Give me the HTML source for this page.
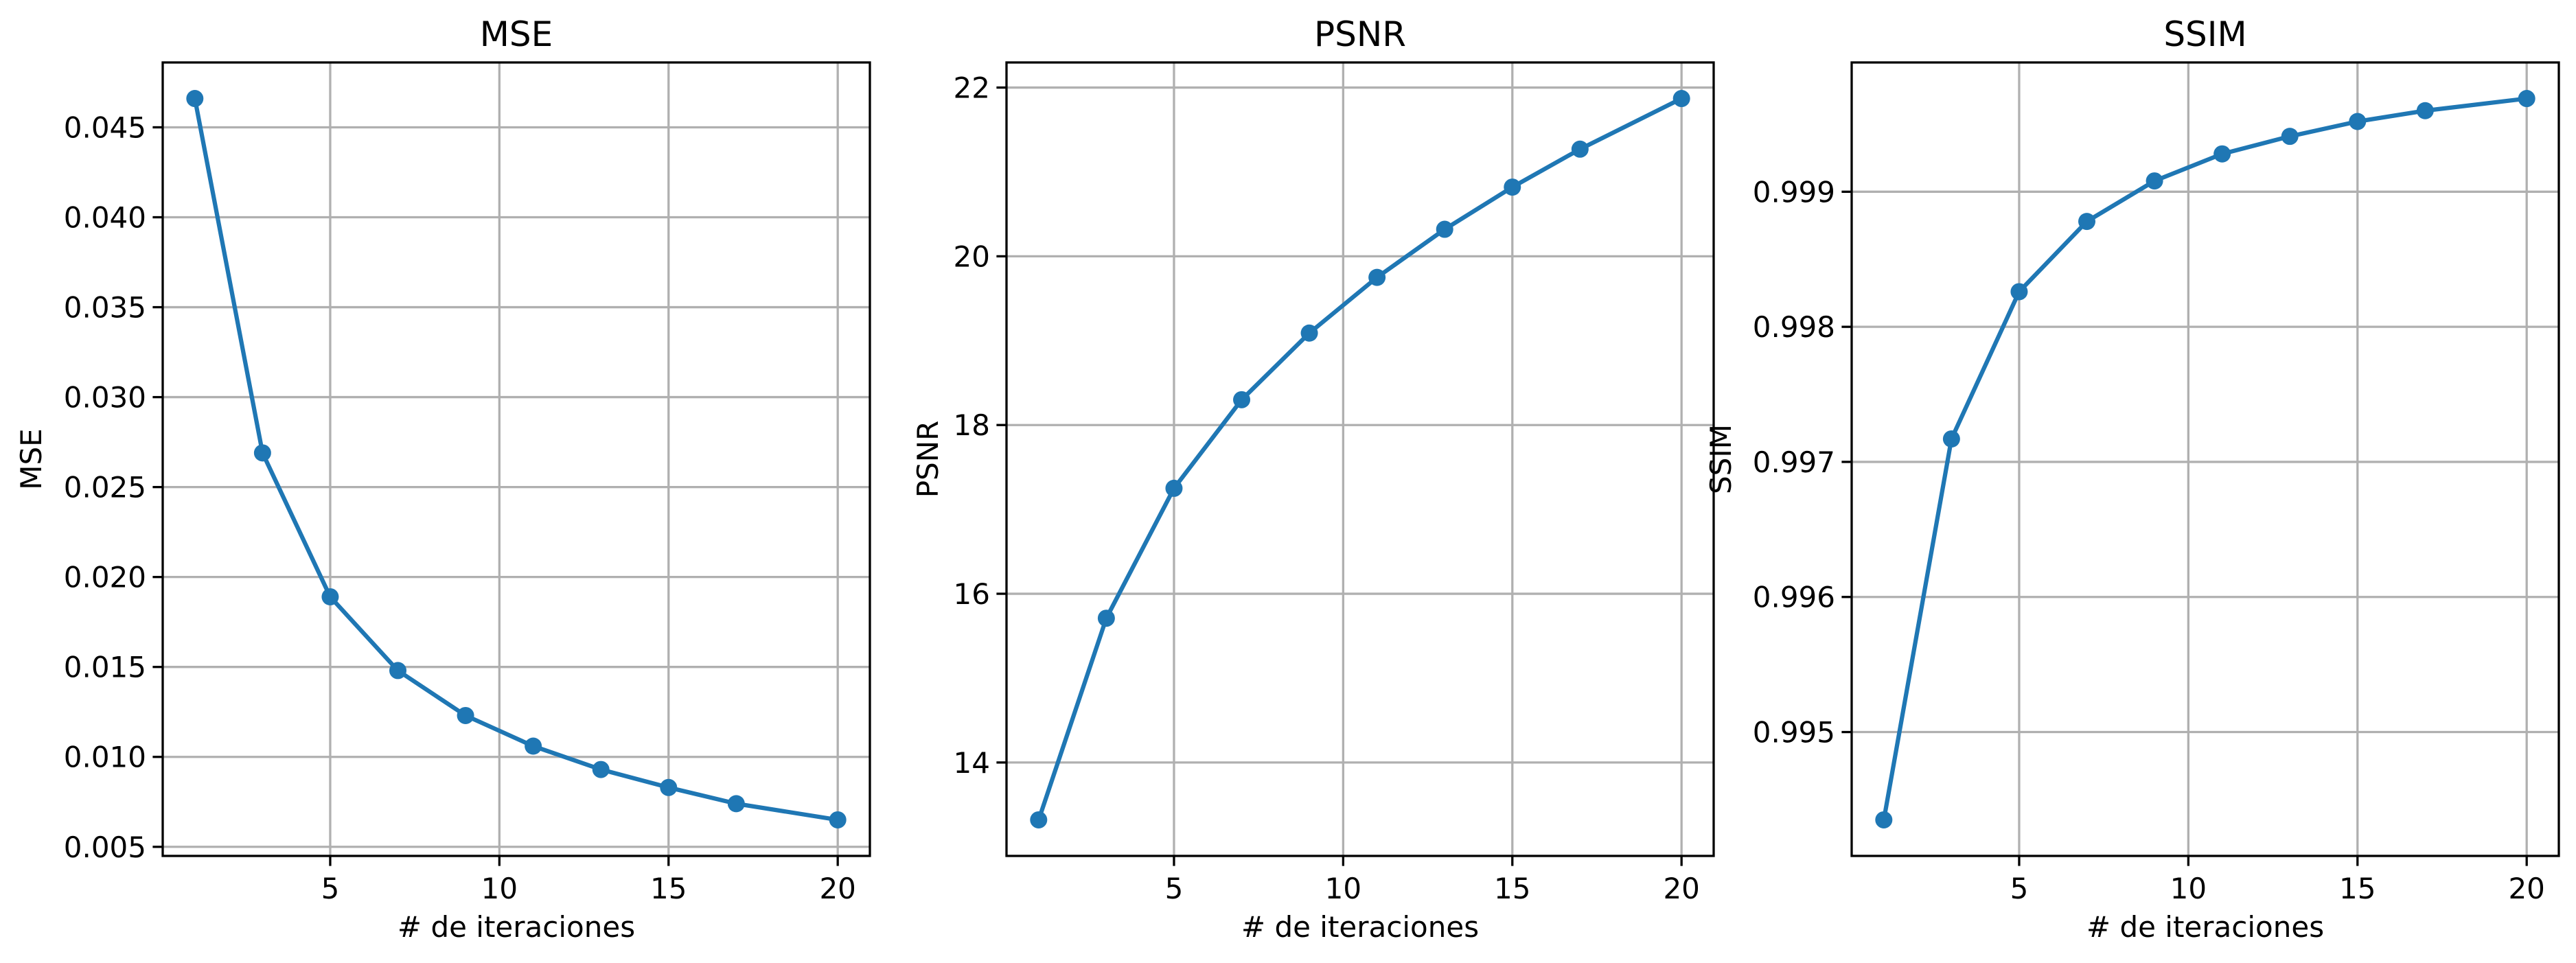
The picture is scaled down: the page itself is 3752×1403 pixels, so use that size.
<!DOCTYPE html>
<html><head><meta charset="utf-8"><style>
html,body{margin:0;padding:0;background:#fff;}
svg{display:block;font-family:"DejaVu Sans","Liberation Sans",sans-serif;}
</style></head><body>
<svg id="fig" width="3752" height="1403" viewBox="0 0 3752 1403" xmlns="http://www.w3.org/2000/svg"></svg>
<script>
const iterations = [1,3,5,7,9,11,13,15,17,20];
const mseValues = [0.0466,0.0269,0.0189,0.0148,0.0123,0.0106,0.0093,0.0083,0.0074,0.0065];
const psnrValues = [13.32,15.71,17.25,18.30,19.09,19.75,20.32,20.82,21.27,21.87];
const ssimValues = [0.99435,0.99717,0.99826,0.99878,0.99908,0.99928,0.99941,0.99952,0.99960,0.99969];
const xTicks = [5,10,15,20];
const mseTicks = [0.005,0.010,0.015,0.020,0.025,0.030,0.035,0.040,0.045];
const mseTickLabels = ["0.005","0.010","0.015","0.020","0.025","0.030","0.035","0.040","0.045"];
const psnrTicks = [14,16,18,20,22];
const psnrTickLabels = ["14","16","18","20","22"];
const ssimTicks = [0.995,0.996,0.997,0.998,0.999];
const ssimTickLabels = ["0.995","0.996","0.997","0.998","0.999"];

const NS="http://www.w3.org/2000/svg";
const svg=document.getElementById('fig');
function mk(tag,attrs,parent){const e=document.createElementNS(NS,tag);for(const k in attrs)e.setAttribute(k,attrs[k]);(parent||svg).appendChild(e);return e;}

const panels=[
 {left:237,title:"MSE",ylabel:"MSE",vals:mseValues,ticks:mseTicks,labels:mseTickLabels,ylabX:60},
 {left:1466,title:"PSNR",ylabel:"PSNR",vals:psnrValues,ticks:psnrTicks,labels:psnrTickLabels,ylabX:1366},
 {left:2697,title:"SSIM",ylabel:"SSIM",vals:ssimValues,ticks:ssimTicks,labels:ssimTickLabels,ylabX:2521}
];
const W=1030, axTop=91, axBottom=1247;
panels.forEach((p,i)=>{
  const g=mk('g',{});
  
  
  const xmin=Math.min(...iterations), xmax=Math.max(...iterations);
  const xm=(xmax-xmin)*0.05;
  const ymin=Math.min(...p.vals), ymax=Math.max(...p.vals);
  const ym=(ymax-ymin)*0.05;
  const sx=v=>p.left+(v-(xmin-xm))/((xmax+xm)-(xmin-xm))*W;
  const sy=v=>axBottom-(v-(ymin-ym))/((ymax+ym)-(ymin-ym))*(axBottom-axTop);
  xTicks.forEach(t=>{
    const l=mk('line',{x1:sx(t),x2:sx(t),y1:axTop,y2:axBottom,stroke:'#b0b0b0','stroke-width':3.3},g);
    
    
    const tk=mk('line',{x1:sx(t),x2:sx(t),y1:axBottom,y2:axBottom+14.6,stroke:'#000','stroke-width':3.3},g);
    
    
    const tx=mk('text',{x:sx(t),y:axBottom+62,'font-size':42,'text-anchor':'middle'},g);
    tx.textContent=t;
    
    
  });
  p.ticks.forEach((t,j)=>{
    const l=mk('line',{x1:p.left,x2:p.left+W,y1:sy(t),y2:sy(t),stroke:'#b0b0b0','stroke-width':3.3},g);
    
    
    const tk=mk('line',{x1:p.left-14.6,x2:p.left,y1:sy(t),y2:sy(t),stroke:'#000','stroke-width':3.3},g);
    
    
    const tx=mk('text',{x:p.left-24,y:sy(t)+15,'font-size':42,'text-anchor':'end'},g);
    tx.textContent=p.labels[j];
    
    
  });
  const pts=iterations.map((x,k)=>sx(x)+','+sy(p.vals[k])).join(' ');
  const pl=mk('polyline',{points:pts,fill:'none',stroke:'#1f77b4','stroke-width':6.25,'stroke-linejoin':'round'},g);
  
  
  iterations.forEach((x,k)=>{
    const c=mk('circle',{cx:sx(x),cy:sy(p.vals[k]),r:12.5,fill:'#1f77b4'},g);
    
    
  });
  const fr=mk('rect',{x:p.left,y:axTop,width:W,height:axBottom-axTop,fill:'none',stroke:'#000','stroke-width':3.3},g);
  
  
  const tt=mk('text',{x:p.left+W/2,y:67,'font-size':50,'text-anchor':'middle'},g);
  tt.textContent=p.title;
  
  
  const xl=mk('text',{x:p.left+W/2,y:1365,'font-size':42,'text-anchor':'middle'},g);
  xl.textContent='# de iteraciones';
  
  
  const cy=(axTop+axBottom)/2;
  const yl=mk('text',{x:p.ylabX,y:cy,'font-size':42,'text-anchor':'middle',transform:`rotate(-90 ${p.ylabX} ${cy})`},g);
  yl.textContent=p.ylabel;
  
  
});
</script>
</body></html>
